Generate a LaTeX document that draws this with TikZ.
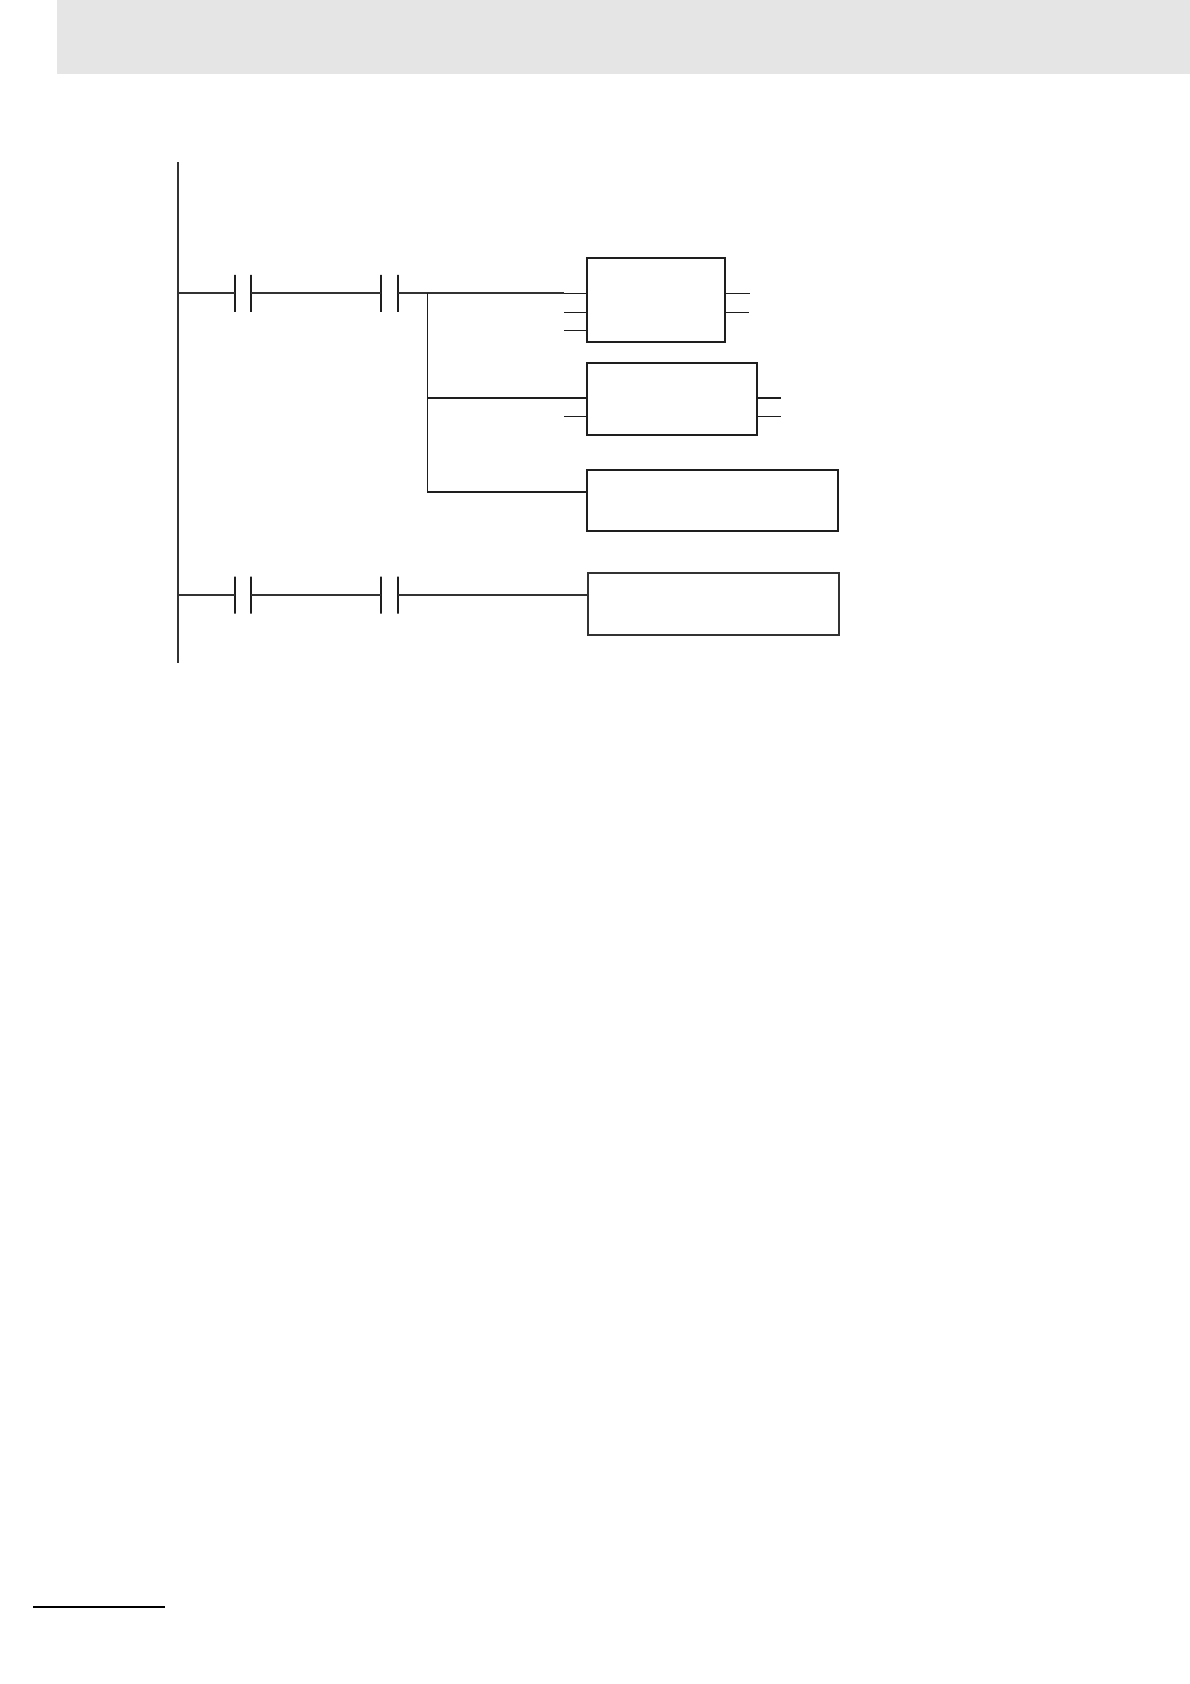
\documentclass[tikz,border=0pt]{standalone}
\usepackage{tikz}
\usetikzlibrary{calc,positioning}
\usepackage{xcolor}
\definecolor{headergray}{RGB}{229,229,229}
\definecolor{wireblack}{RGB}{30,30,30}
\definecolor{railgray}{RGB}{50,50,50}
\tikzset{
  wire/.style={wireblack,line width=1.1pt},
  softwire/.style={railgray,line width=1.8pt},
  heavywire/.style={wireblack,line width=1.9pt},
  plate/.style={draw=wireblack,line width=1.7pt,rectangle,inner sep=0pt,outer sep=0pt,minimum width=0pt,minimum height=37pt},
  fblock/.style={draw=wireblack,line width=1.9pt,rectangle,anchor=north west,inner sep=0pt,outer sep=0pt},
  cmdblock/.style={fblock,line width=1.8pt},
}
\begin{document}
\begin{tikzpicture}[x=1pt,y=-1pt]
      \useasboundingbox (0,0) rectangle (1190,1684);
      % page furniture
      \fill[headergray] (56.7,0) rectangle (1190,73.7);
      \coordinate (footL) at (33,1606.8);
      \coordinate (footR) at (165,1606.8);
      \draw[black,line width=2pt] (footL) -- (footR);
      % power rail
      \coordinate (railTop) at (178,162);
      \coordinate (railBot) at (178,663);
      \draw[railgray,line width=1.6pt] (railTop) -- (railBot);
      % function blocks
      \node[fblock,minimum width=138.3pt,minimum height=84pt] (blockA) at (586.7,257.7) {};
      \node[fblock,minimum width=170.3pt,minimum height=72pt] (blockB) at (586.7,363) {};
      \node[cmdblock,minimum width=251.3pt,minimum height=61.6pt] (blockC) at (586.7,469.7) {};
      \node[cmdblock,draw=railgray,minimum width=251pt,minimum height=62pt] (blockD) at (588,573) {};
      % first rung
      \node[plate] (contA) at (235,293.3) {};
      \node[plate] (contB) at (251.2,293.3) {};
      \node[plate] (contC) at (381.2,293.3) {};
      \node[plate] (contD) at (398.2,293.3) {};
      \coordinate (branchTop) at (427.3,293.3);
      \coordinate (branchMid) at (427.3,397.7);
      \coordinate (branchBot) at (427.3,492);
      \coordinate (stubA) at (564,293.3);
      \draw[softwire] (railTop |- contA) -- (contA);
      \draw[softwire] (contB) -- (contC);
      \draw[softwire] (contD) -- (stubA);
      \draw[wire] (stubA) -- (stubA -| blockA.west);
      \draw[wire] (branchTop) -- (branchBot);
      \draw[heavywire] (branchMid) -- (branchMid -| blockB.west);
      \draw[heavywire] (branchBot) -- (branchBot -| blockC.west);
      % stubs of the blocks
      \coordinate (stubB) at (564,312.3);
      \coordinate (stubC) at (564,330.3);
      \coordinate (stubD) at (564,416.3);
      \coordinate (stubE) at (750,293.3);
      \coordinate (stubF) at (749,312.3);
      \coordinate (stubG) at (780.7,397.7);
      \coordinate (stubH) at (780.7,416.3);
      \draw[wire] (stubB) -- (stubB -| blockA.west);
      \draw[wire] (stubC) -- (stubC -| blockA.west);
      \draw[wire] (stubD) -- (stubD -| blockB.west);
      \draw[wire] (stubE -| blockA.east) -- (stubE);
      \draw[wire] (stubF -| blockA.east) -- (stubF);
      \draw[heavywire] (stubG -| blockB.east) -- (stubG);
      \draw[wire] (stubH -| blockB.east) -- (stubH);
      % second rung
      \node[plate] (contE) at (235,595.2) {};
      \node[plate] (contF) at (251.2,595.2) {};
      \node[plate] (contG) at (381.2,595.2) {};
      \node[plate] (contH) at (398.2,595.2) {};
      \draw[softwire] (railTop |- contE) -- (contE);
      \draw[softwire] (contF) -- (contG);
      \draw[softwire] (contH) -- (contH -| blockD.west);
    \end{tikzpicture}
\end{document}
